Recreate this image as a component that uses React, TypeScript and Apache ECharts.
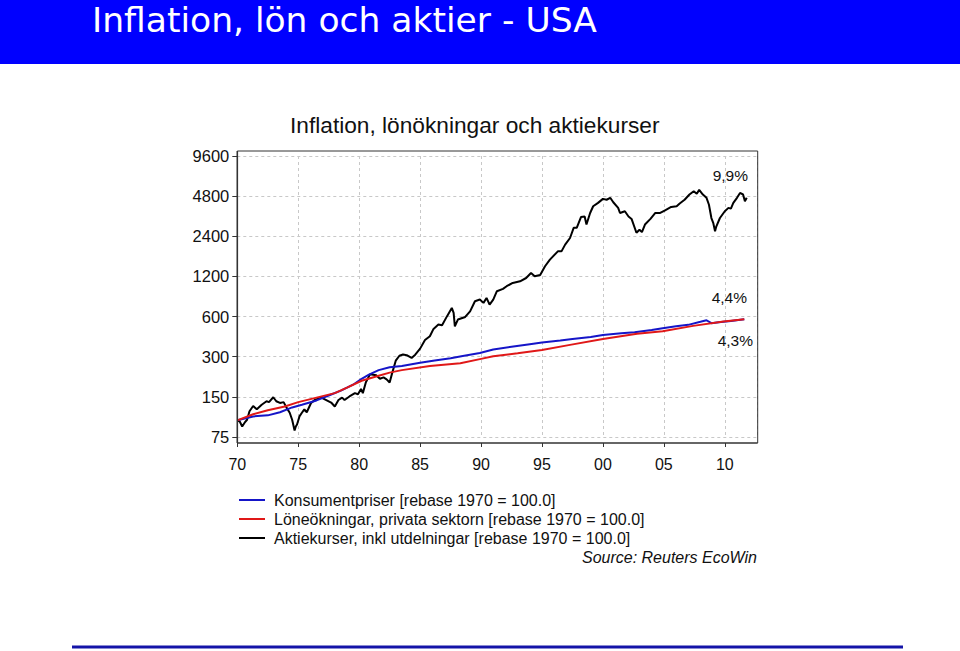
import React, { useEffect, useRef } from "react";
import * as echarts from "echarts";

const pageTitle = "Inflation, lön och aktier - USA";
const chartTitle = "Inflation, lönökningar och aktiekurser";
const seriesNames = [
  "Konsumentpriser [rebase 1970 = 100.0]",
  "Löneökningar, privata sektorn [rebase 1970 = 100.0]",
  "Aktiekurser, inkl utdelningar [rebase 1970 = 100.0]",
];
const seriesColors = ["#1515c8", "#e01818", "#000000"];
const yBase = 75; // lowest tick label; ticks double upward: 75,150,...,9600
const annotations = [
  { text: "9,9%", x: 748, y: 175 },
  { text: "4,4%", x: 747, y: 297 },
  { text: "4,3%", x: 753, y: 340 },
];
const sourceText = "Source: Reuters EcoWin";

// [year, value]
const cpi: [number, number][] = [
  [1970.0, 100], [1971.3, 107], [1972.5, 109], [1973.5, 115], [1974.5, 125],
  [1975.3, 131], [1976.5, 141], [1977.6, 155], [1978.5, 167], [1979.5, 185],
  [1980.2, 205], [1980.8, 220], [1981.6, 238], [1982.5, 250], [1983.5, 256],
  [1985.0, 270], [1986.2, 281], [1987.5, 292], [1988.5, 304], [1989.9, 320],
  [1991.0, 340], [1992.5, 356], [1994.0, 372], [1995.0, 383], [1996.5, 397],
  [1997.5, 408], [1999.0, 421], [2000.0, 437], [2001.5, 449], [2002.6, 458],
  [2004.0, 476], [2004.9, 491], [2006.0, 507], [2007.0, 520], [2008.0, 548],
  [2008.5, 563], [2008.9, 535], [2009.5, 544], [2010.5, 556], [2011.6, 574],
];

const wages: [number, number][] = [
  [1970.0, 100], [1971.3, 111], [1972.5, 119], [1973.9, 127], [1975.0, 137],
  [1976.5, 148], [1978.0, 160], [1979.0, 176], [1980.2, 198], [1981.6, 216],
  [1982.5, 228], [1983.5, 238], [1985.8, 256], [1988.3, 268], [1990.0, 289],
  [1991.0, 302], [1993.0, 318], [1995.0, 337], [1997.3, 368], [2000.0, 407],
  [2002.8, 446], [2004.9, 466], [2007.4, 511], [2009.9, 550], [2011.6, 572],
];

const stocks: [number, number][] = [
  [1970.0, 100], [1970.2, 98], [1970.4, 90], [1970.6, 96], [1970.8, 101],
  [1971.0, 117], [1971.3, 128], [1971.6, 121], [1972.0, 131], [1972.4, 139],
  [1972.6, 137], [1972.95, 149], [1973.2, 139], [1973.5, 135], [1973.8, 137],
  [1974.05, 124], [1974.3, 114], [1974.5, 101], [1974.7, 84], [1974.8, 90],
  [1974.9, 93], [1975.1, 107], [1975.3, 114], [1975.5, 121], [1975.7, 115],
  [1976.05, 135], [1976.4, 143], [1976.9, 148], [1977.3, 142], [1977.7, 136],
  [1978.0, 127], [1978.3, 142], [1978.6, 148], [1978.8, 142], [1979.2, 151],
  [1979.65, 160], [1979.9, 157], [1980.15, 172], [1980.3, 160], [1980.55, 193],
  [1980.9, 222], [1981.4, 218], [1981.7, 205], [1982.0, 210], [1982.25, 203],
  [1982.5, 192], [1982.7, 225], [1983.0, 280], [1983.3, 305], [1983.6, 312],
  [1983.9, 308], [1984.3, 294], [1984.6, 311], [1985.0, 345], [1985.4, 400],
  [1985.8, 427], [1986.1, 485], [1986.5, 523], [1986.8, 517], [1987.2, 602],
  [1987.6, 696], [1987.75, 640], [1987.85, 507], [1988.1, 570], [1988.7, 596],
  [1989.1, 657], [1989.5, 782], [1989.9, 805], [1990.2, 760], [1990.45, 828],
  [1990.7, 738], [1991.0, 805], [1991.3, 930], [1991.8, 968], [1992.1, 1013],
  [1992.6, 1073], [1993.2, 1104], [1993.7, 1168], [1994.1, 1274], [1994.4, 1202],
  [1994.85, 1230], [1995.25, 1430], [1995.65, 1603], [1996.3, 1850], [1996.6, 1850],
  [1996.9, 2078], [1997.3, 2330], [1997.6, 2778], [1997.85, 2778], [1998.2, 3344],
  [1998.5, 3380], [1998.65, 2940], [1998.95, 3590], [1999.2, 4030], [1999.6, 4273],
  [2000.0, 4580], [2000.3, 4510], [2000.6, 4665], [2000.85, 4320], [2001.25, 3920],
  [2001.4, 3590], [2001.8, 3700], [2002.1, 3380], [2002.35, 3240], [2002.75, 2550],
  [2003.0, 2690], [2003.2, 2580], [2003.45, 2940], [2003.9, 3240], [2004.3, 3590],
  [2004.7, 3590], [2005.1, 3760], [2005.6, 3980], [2006.05, 4030], [2006.3, 4225],
  [2006.7, 4507], [2007.1, 4937], [2007.45, 5230], [2007.7, 5000], [2007.9, 5350],
  [2008.2, 4937], [2008.5, 4665], [2008.7, 4140], [2008.9, 3290], [2009.05, 3030],
  [2009.2, 2620], [2009.3, 2840], [2009.6, 3290], [2010.0, 3700], [2010.3, 3920],
  [2010.5, 3870], [2010.7, 4273], [2011.0, 4665], [2011.25, 5070], [2011.5, 4937],
  [2011.65, 4400], [2011.8, 4665],
];

const FONT = "'Liberation Sans', Arial, sans-serif";

export default function App() {
  const ref = useRef<HTMLDivElement>(null);
  useEffect(() => {
    if (!ref.current) return;
    const chart = echarts.init(ref.current, undefined, { renderer: "svg" });
    const all = [cpi, wages, stocks];
    const gl = 237.3, gr = 757.7, gt = 151, gb = 443;
    chart.setOption({
      animation: false,
      backgroundColor: "#ffffff",
      title: {
        text: chartTitle,
        left: 290,
        top: 113,
        padding: 0,
        textStyle: { fontFamily: FONT, fontSize: 22.7, fontWeight: "normal", color: "#111" },
      },
      grid: { left: gl, right: 960 - gr, top: 156, bottom: 214 },
      xAxis: {
        type: "value",
        min: 1970,
        max: 2012.7,
        interval: 5,
        offset: 6,
        axisLine: { show: false },
        axisTick: { show: true, length: 4, lineStyle: { color: "#333" } },
        axisLabel: {
          showMaxLabel: false,
          margin: 13,
          fontFamily: FONT,
          fontSize: 16,
          color: "#111",
          formatter: (v: number) => String(Math.round(v) % 100).padStart(2, "0"),
        },
        splitLine: { show: true, lineStyle: { color: "#c8c8c8", type: [3, 3], width: 1 } },
      },
      yAxis: {
        type: "log",
        logBase: 2,
        min: 1,
        max: 128,
        axisLine: { show: false },
        axisTick: { show: true, length: 5, lineStyle: { color: "#333" } },
        axisLabel: {
          margin: 8,
          fontFamily: FONT,
          fontSize: 16.5,
          color: "#111",
          formatter: (v: number) => String(Math.round(v * yBase)),
        },
        splitLine: { show: true, lineStyle: { color: "#c8c8c8", type: [3, 3], width: 1 } },
      },
      legend: {
        orient: "vertical",
        left: 239,
        top: 492,
        padding: 0,
        itemWidth: 26,
        itemHeight: 2,
        itemGap: 3,
        icon: "rect",
        data: seriesNames,
        textStyle: { fontFamily: FONT, fontSize: 16, color: "#111", padding: [0, 0, 0, 4] },
      },
      series: all.map((d, i) => ({
        name: seriesNames[i],
        type: "line",
        showSymbol: false,
        symbol: "none",
        z: i === 2 ? 2 : 3,
        lineStyle: { width: 2, color: seriesColors[i] },
        itemStyle: { color: seriesColors[i] },
        data: d.map(([x, v]) => [x, v / yBase]),
      })),
      graphic: [
        { type: "rect", shape: { x: 0, y: 0, width: 960, height: 64 }, style: { fill: "#0000ff" }, z: 10 },
        {
          type: "text",
          x: 92,
          y: 20,
          style: {
            text: pageTitle,
            fill: "#ffffff",
            font: "34.5px 'DejaVu Sans', sans-serif",
            verticalAlign: "middle",
          },
          z: 11,
        },
        { type: "rect", shape: { x: 72, y: 645.5, width: 831, height: 3 }, style: { fill: "#1414a8" }, z: 10 },
        { type: "line", shape: { x1: gl, y1: gt, x2: gr, y2: gt }, style: { stroke: "#333", lineWidth: 1 }, z: 10 },
        { type: "line", shape: { x1: gr, y1: gt, x2: gr, y2: gb }, style: { stroke: "#333", lineWidth: 1 }, z: 10 },
        { type: "line", shape: { x1: gl, y1: gt, x2: gl, y2: gb }, style: { stroke: "#333", lineWidth: 1.6 }, z: 10 },
        { type: "line", shape: { x1: gl, y1: gb, x2: gr, y2: gb }, style: { stroke: "#333", lineWidth: 1.6 }, z: 10 },
        ...annotations.map((a) => ({
          type: "text",
          x: a.x,
          y: a.y,
          style: {
            text: a.text,
            fill: "#111",
            font: `15.5px ${FONT}`,
            align: "right",
            verticalAlign: "middle",
          },
          z: 10,
        })),
        {
          type: "text",
          x: 757,
          y: 557,
          style: {
            text: sourceText,
            fill: "#111",
            font: `italic 16px ${FONT}`,
            align: "right",
            verticalAlign: "middle",
          },
          z: 10,
        },
      ],
    });
    return () => chart.dispose();
  }, []);
  return (
    <div
      ref={ref}
      style={{ position: "fixed", left: 0, top: 0, width: 960, height: 651, background: "#fff" }}
    />
  );
}
